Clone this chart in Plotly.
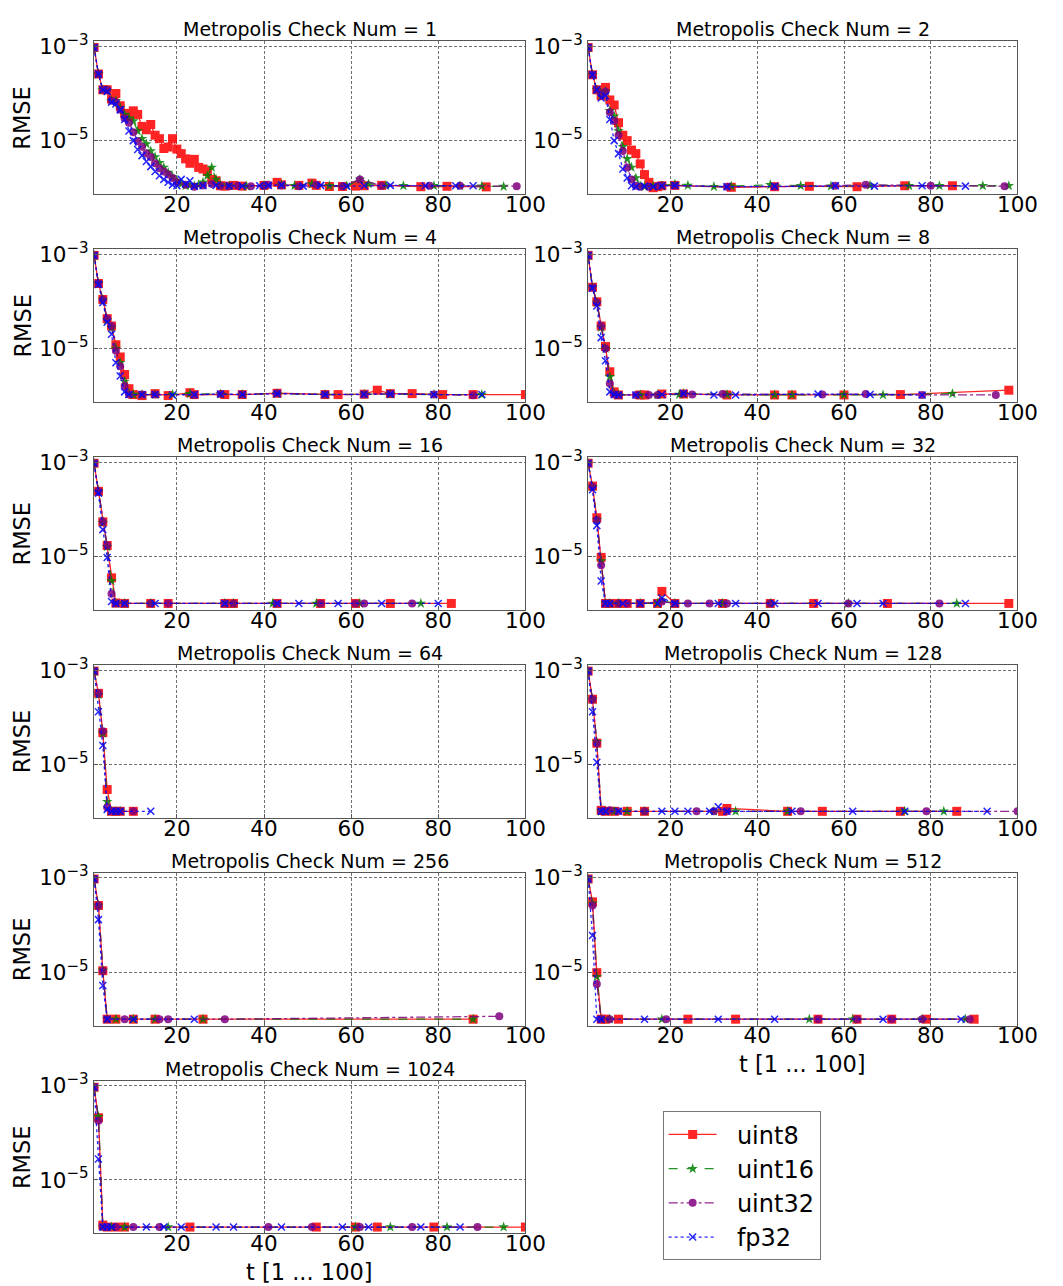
import plotly.graph_objects as go

W, H = 1063, 1286

check_nums = [1, 2, 4, 8, 16, 32, 64, 128, 256, 512, 1024]
dtypes = ["uint8", "uint16", "uint32", "fp32"]
x_ticks = [20, 40, 60, 80, 100]
y_ticks = [1e-3, 1e-5]
y_tick_text = ["10<sup>−3</sup>", "10<sup>−5</sup>"]
x_label = "t [1 ... 100]"
y_label = "RMSE"

# (t, RMSE) samples for each Metropolis check count and data type
c1_uint8 = [(1, 9.5e-4), (2, 2.6e-4), (3, 1.2e-4), (4, 1.2e-4), (5, 7.7e-5), (6, 1.0e-4), (7, 5.5e-5),
            (8, 3.8e-5), (9, 3.2e-5), (10, 4.3e-5), (11, 3.6e-5), (12, 2.0e-5), (13, 1.7e-5), (14, 2.2e-5),
            (15, 1.3e-5), (16, 1.1e-5), (17, 6.8e-6), (18, 7.3e-6), (19, 1.1e-5), (20, 6.6e-6), (21, 5.3e-6),
            (22, 4.1e-6), (23, 3.3e-6), (24, 4.0e-6), (25, 2.7e-6), (26, 2.5e-6), (27, 2.2e-6), (28, 1.5e-6),
            (29, 1.4e-6), (30, 1.1e-6), (31, 1.08e-6), (33, 1.12e-6), (35, 1.08e-6), (40, 1.12e-6),
            (43, 1.3e-6), (44, 1.15e-6), (48, 1.12e-6), (51, 1.25e-6), (52, 1.12e-6), (55, 1.06e-6),
            (58, 1.06e-6), (61, 1.08e-6), (63, 1.1e-6), (67, 1.12e-6), (76, 1.05e-6), (82, 1.07e-6),
            (91, 1.04e-6)]
c1_uint16 = [(1, 9.5e-4), (2, 2.6e-4), (3, 1.2e-4), (4, 1.15e-4), (5, 7.0e-5), (6, 7.0e-5), (7, 5.0e-5),
             (8, 3.6e-5), (9, 3.0e-5), (10, 2.6e-5), (11, 1.6e-5), (12, 1.1e-5), (13, 8.5e-6), (14, 6.0e-6),
             (15, 4.5e-6), (16, 3.4e-6), (17, 2.7e-6), (18, 2.1e-6), (19, 1.7e-6), (20, 1.4e-6), (21, 1.2e-6),
             (22, 1.1e-6), (23, 1.12e-6), (24, 1.1e-6), (25, 1.15e-6), (26, 1.3e-6), (27, 1.8e-6), (28, 2.7e-6),
             (29, 1.5e-6), (30, 1.15e-6), (32, 1.1e-6), (36, 1.08e-6), (40, 1.12e-6), (44, 1.15e-6),
             (47, 1.1e-6), (51, 1.2e-6), (55, 1.1e-6), (59, 1.1e-6), (62, 1.5e-6), (64, 1.2e-6),
             (68, 1.12e-6), (72, 1.1e-6), (79, 1.1e-6), (85, 1.1e-6), (90, 1.08e-6), (95, 1.06e-6)]
c1_uint32 = [(1, 9.5e-4), (2, 2.6e-4), (3, 1.2e-4), (4, 1.2e-4), (5, 7.0e-5), (6, 6.5e-5), (7, 4.5e-5),
             (8, 3.0e-5), (9, 2.4e-5), (10, 1.5e-5), (11, 9.7e-6), (12, 7.4e-6), (13, 5.3e-6), (14, 4.5e-6),
             (15, 3.3e-6), (16, 2.6e-6), (17, 2.2e-6), (18, 1.9e-6), (19, 1.6e-6), (20, 1.3e-6), (22, 1.15e-6),
             (24, 1.05e-6), (26, 1.12e-6), (28, 1.2e-6), (30, 1.1e-6), (32, 1.08e-6), (34, 1.1e-6),
             (37, 1.07e-6), (40, 1.1e-6), (41, 1.15e-6), (44, 1.12e-6), (48, 1.07e-6), (52, 1.15e-6),
             (58, 1.08e-6), (62, 1.5e-6), (67, 1.1e-6), (78, 1.1e-6), (85, 1.1e-6), (98, 1.08e-6)]
c1_fp32 = [(1, 9.5e-4), (2, 2.6e-4), (3, 1.2e-4), (4, 1.1e-4), (5, 6.5e-5), (6, 6.0e-5), (7, 4.5e-5),
           (8, 2.8e-5), (9, 1.6e-5), (10, 1.0e-5), (11, 6.5e-6), (12, 4.8e-6), (13, 3.6e-6), (14, 2.8e-6),
           (15, 2.2e-6), (16, 1.8e-6), (17, 1.5e-6), (18, 1.3e-6), (19, 1.15e-6), (20, 1.1e-6), (21, 1.5e-6),
           (22, 1.2e-6), (23, 1.4e-6), (24, 1.08e-6), (26, 1.1e-6), (29, 1.12e-6), (32, 1.1e-6), (35, 1.08e-6),
           (39, 1.1e-6), (41, 1.12e-6), (44, 1.15e-6), (49, 1.08e-6), (53, 1.12e-6), (59, 1.07e-6),
           (63, 1.1e-6), (69, 1.12e-6), (77, 1.1e-6), (84, 1.1e-6), (88, 1.1e-6)]

c2_uint8 = [(1, 9.5e-4), (2, 2.5e-4), (3, 1.2e-4), (4, 9.0e-5), (5, 1.35e-4), (6, 7.3e-5), (7, 5.7e-5),
            (8, 2.4e-5), (9, 1.3e-5), (10, 1.0e-5), (11, 6.3e-6), (12, 5.3e-6), (13, 3.2e-6), (14, 1.9e-6),
            (15, 1.3e-6), (16, 1.0e-6), (17, 1.05e-6), (18, 1.1e-6), (21, 1.12e-6), (34, 1.02e-6),
            (44, 1.05e-6), (52, 1.07e-6), (63, 1.05e-6), (74, 1.1e-6), (85, 1.1e-6)]
c2_uint16 = [(1, 9.5e-4), (2, 2.5e-4), (3, 1.2e-4), (4, 9.5e-5), (5, 1.1e-4), (6, 4.3e-5), (7, 3.3e-5),
             (8, 1.6e-5), (9, 7.4e-6), (10, 4.1e-6), (11, 2.7e-6), (12, 1.6e-6), (13, 1.1e-6), (14, 1.05e-6),
             (16, 1.08e-6), (18, 1.1e-6), (21, 1.2e-6), (24, 1.12e-6), (30, 1.05e-6), (34, 1.08e-6),
             (43, 1.15e-6), (50, 1.1e-6), (57, 1.08e-6), (66, 1.12e-6), (75, 1.1e-6), (82, 1.1e-6),
             (92, 1.1e-6), (98, 1.1e-6)]
c2_uint32 = [(1, 9.5e-4), (2, 2.5e-4), (3, 1.2e-4), (4, 1.0e-4), (5, 1.1e-4), (6, 4.0e-5), (7, 2.6e-5),
             (8, 1.3e-5), (9, 6.0e-6), (10, 2.7e-6), (11, 1.5e-6), (12, 1.1e-6), (13, 1.05e-6), (15, 1.05e-6),
             (17, 1.08e-6), (18, 1.12e-6), (21, 1.1e-6), (33, 1.05e-6), (44, 1.05e-6), (58, 1.1e-6),
             (65, 1.15e-6), (80, 1.1e-6), (97, 1.08e-6)]
c2_fp32 = [(1, 9.5e-4), (2, 2.5e-4), (3, 1.2e-4), (4, 8.0e-5), (5, 9.0e-5), (6, 2.8e-5), (7, 1.0e-5),
           (8, 5.3e-6), (9, 2.5e-6), (10, 1.6e-6), (11, 1.1e-6), (12, 1.05e-6), (14, 1.08e-6), (16, 1.05e-6),
           (18, 1.1e-6), (21, 1.12e-6), (33, 1.05e-6), (44, 1.07e-6), (58, 1.1e-6), (67, 1.08e-6),
           (78, 1.1e-6), (88, 1.08e-6)]

c4_uint8 = [(1, 9.5e-4), (2, 2.4e-4), (3, 1.1e-4), (4, 4.3e-5), (5, 3.0e-5), (6, 1.2e-5), (7, 6.6e-6),
            (8, 2.8e-6), (9, 1.4e-6), (10, 1.05e-6), (12, 1.0e-6), (15, 1.1e-6), (18, 1.0e-6), (23, 1.15e-6),
            (24, 1.05e-6), (31, 1.05e-6), (35, 1.05e-6), (43, 1.12e-6), (54, 1.05e-6), (57, 1.05e-6),
            (63, 1.07e-6), (66, 1.3e-6), (69, 1.1e-6), (74, 1.1e-6), (81, 1.05e-6), (88, 1.05e-6),
            (100, 1.05e-6)]
c4_uint16 = [(1, 9.5e-4), (2, 2.4e-4), (3, 1.1e-4), (4, 4.0e-5), (5, 2.8e-5), (6, 1.0e-5), (7, 5.0e-6),
             (8, 2.0e-6), (9, 1.1e-6), (10, 1.05e-6), (12, 1.05e-6), (15, 1.05e-6), (19, 1.05e-6),
             (23, 1.1e-6), (30, 1.08e-6), (35, 1.05e-6), (43, 1.1e-6), (54, 1.05e-6), (63, 1.07e-6),
             (69, 1.08e-6), (79, 1.05e-6), (90, 1.05e-6)]
c4_uint32 = [(1, 9.5e-4), (2, 2.4e-4), (3, 1.1e-4), (4, 4.3e-5), (5, 3.0e-5), (6, 9.0e-6), (7, 4.2e-6),
             (8, 1.6e-6), (9, 1.05e-6), (12, 1.05e-6), (15, 1.05e-6), (24, 1.03e-6), (30, 1.08e-6),
             (35, 1.05e-6), (43, 1.12e-6), (54, 1.05e-6), (63, 1.05e-6), (69, 1.1e-6), (79, 1.05e-6),
             (88, 1.02e-6)]
c4_fp32 = [(1, 9.5e-4), (2, 2.3e-4), (3, 9.5e-5), (4, 3.6e-5), (5, 2.0e-5), (6, 5.0e-6), (7, 2.6e-6),
           (8, 1.2e-6), (9, 1.05e-6), (12, 1.05e-6), (15, 1.05e-6), (19, 1.03e-6), (24, 1.05e-6),
           (30, 1.08e-6), (35, 1.05e-6), (43, 1.1e-6), (54, 1.05e-6), (63, 1.07e-6), (69, 1.08e-6),
           (79, 1.05e-6), (90, 1.05e-6)]

c8_uint8 = [(1, 9.5e-4), (2, 2.0e-4), (3, 9.8e-5), (4, 3.0e-5), (5, 1.1e-5), (6, 3.2e-6), (7, 1.2e-6),
            (8, 1.03e-6), (13, 1.03e-6), (14, 1.03e-6), (18, 1.08e-6), (23, 1.08e-6), (33, 1.03e-6),
            (44, 1.03e-6), (48, 1.03e-6), (60, 1.03e-6), (73, 1.05e-6), (98, 1.3e-6)]
c8_uint16 = [(1, 9.5e-4), (2, 2.0e-4), (3, 9.5e-5), (4, 2.8e-5), (5, 1.0e-5), (6, 2.5e-6), (7, 1.1e-6),
             (8, 1.03e-6), (13, 1.03e-6), (17, 1.03e-6), (22, 1.05e-6), (23, 1.1e-6), (33, 1.05e-6),
             (44, 1.03e-6), (48, 1.03e-6), (60, 1.05e-6), (69, 1.03e-6), (85, 1.1e-6)]
c8_uint32 = [(1, 9.5e-4), (2, 2.0e-4), (3, 9.5e-5), (4, 3.0e-5), (5, 1.0e-5), (6, 1.8e-6), (7, 1.05e-6),
             (8, 1.03e-6), (12, 1.03e-6), (15, 1.03e-6), (17, 1.03e-6), (23, 1.1e-6), (25, 1.05e-6),
             (32, 1.08e-6), (55, 1.05e-6), (65, 1.08e-6), (78, 1.03e-6), (95, 1.03e-6)]
c8_fp32 = [(1, 9.5e-4), (2, 1.9e-4), (3, 8.0e-5), (4, 1.7e-5), (5, 5.5e-6), (6, 1.2e-6), (7, 1.05e-6),
           (8, 1.03e-6), (12, 1.03e-6), (18, 1.05e-6), (23, 1.12e-6), (30, 1.03e-6), (35, 1.03e-6),
           (54, 1.08e-6), (66, 1.05e-6), (78, 1.03e-6)]

c16_uint8 = [(1, 9.5e-4), (2, 2.4e-4), (3, 5.4e-5), (4, 1.7e-5), (5, 3.5e-6), (6, 1.02e-6), (8, 1.0e-6),
             (14, 1.0e-6), (18, 1.0e-6), (31, 1.0e-6), (32, 1.0e-6), (33, 1.0e-6), (43, 1.0e-6),
             (53, 1.0e-6), (61, 1.0e-6), (69, 1.0e-6), (83, 1.0e-6)]
c16_uint16 = [(1, 9.5e-4), (2, 2.4e-4), (3, 5.2e-5), (4, 1.6e-5), (5, 3.0e-6), (6, 1.0e-6), (8, 1.0e-6),
              (14, 1.0e-6), (31, 1.0e-6), (33, 1.0e-6), (42, 1.0e-6), (52, 1.0e-6), (62, 1.0e-6),
              (76, 1.0e-6)]
c16_uint32 = [(1, 9.5e-4), (2, 2.4e-4), (3, 5.4e-5), (4, 1.7e-5), (5, 1.6e-6), (6, 1.0e-6), (8, 1.0e-6),
              (14, 1.0e-6), (18, 1.0e-6), (31, 1.0e-6), (33, 1.0e-6), (43, 1.0e-6), (53, 1.0e-6),
              (61, 1.0e-6), (63, 1.0e-6), (74, 1.0e-6)]
c16_fp32 = [(1, 9.5e-4), (2, 2.2e-4), (3, 3.7e-5), (4, 9.5e-6), (5, 1.1e-6), (6, 1.0e-6), (8, 1.0e-6),
            (15, 1.0e-6), (31, 1.0e-6), (43, 1.0e-6), (48, 1.0e-6), (57, 1.0e-6), (67, 1.0e-6),
            (80, 1.0e-6)]

c32_uint8 = [(1, 9.5e-4), (2, 3.1e-4), (3, 6.6e-5), (4, 9.5e-6), (5, 1.0e-6), (6, 1.0e-6), (8, 1.0e-6),
             (10, 1.0e-6), (13, 1.0e-6), (17, 1.0e-6), (18, 1.8e-6), (21, 1.0e-6), (32, 1.0e-6),
             (43, 1.0e-6), (53, 1.0e-6), (70, 1.0e-6), (98, 1.0e-6)]
c32_uint16 = [(1, 9.5e-4), (2, 3.0e-4), (3, 6.0e-5), (4, 8.0e-6), (5, 1.0e-6), (6, 1.0e-6), (8, 1.0e-6),
              (13, 1.0e-6), (17, 1.0e-6), (18, 1.15e-6), (21, 1.0e-6), (32, 1.0e-6), (43, 1.0e-6),
              (61, 1.0e-6), (86, 1.0e-6)]
c32_uint32 = [(1, 9.5e-4), (2, 3.0e-4), (3, 6.0e-5), (4, 6.5e-6), (5, 1.0e-6), (6, 1.0e-6), (8, 1.0e-6),
              (10, 1.0e-6), (13, 1.0e-6), (18, 1.1e-6), (21, 1.0e-6), (24, 1.0e-6), (29, 1.0e-6),
              (33, 1.0e-6), (43, 1.0e-6), (61, 1.0e-6), (82, 1.0e-6)]
c32_fp32 = [(1, 9.5e-4), (2, 2.6e-4), (3, 4.5e-5), (4, 3.0e-6), (5, 1.0e-6), (6, 1.0e-6), (9, 1.0e-6),
            (13, 1.0e-6), (17, 1.0e-6), (18, 1.3e-6), (21, 1.0e-6), (31, 1.0e-6), (35, 1.0e-6),
            (44, 1.0e-6), (54, 1.0e-6), (63, 1.0e-6), (69, 1.0e-6), (88, 1.0e-6)]

c64_uint8 = [(1, 9.5e-4), (2, 3.2e-4), (3, 4.7e-5), (4, 2.9e-6), (5, 1.0e-6), (6, 1.0e-6), (7, 1.0e-6),
             (10, 1.0e-6)]
c64_uint16 = [(1, 9.5e-4), (2, 3.0e-4), (3, 4.5e-5), (4, 1.6e-6), (5, 1.0e-6), (6, 1.0e-6), (7, 1.0e-6)]
c64_uint32 = [(1, 9.5e-4), (2, 3.2e-4), (3, 5.0e-5), (4, 1.2e-6), (5, 1.0e-6), (6, 1.0e-6), (7, 1.0e-6),
              (10, 1.0e-6)]
c64_fp32 = [(1, 9.5e-4), (2, 1.3e-4), (3, 2.5e-5), (4, 1.1e-6), (5, 1.0e-6), (6, 1.0e-6), (7, 1.0e-6),
            (14, 1.0e-6)]

c128_uint8 = [(1, 9.5e-4), (2, 2.4e-4), (3, 2.8e-5), (4, 1.05e-6), (5, 1.0e-6), (7, 1.0e-6), (10, 1.0e-6),
              (14, 1.0e-6), (32, 1.0e-6), (33, 1.15e-6), (47, 1.0e-6), (55, 1.0e-6), (73, 1.0e-6),
              (86, 1.0e-6)]
c128_uint16 = [(1, 9.5e-4), (2, 2.4e-4), (3, 3.0e-5), (4, 1.0e-6), (5, 1.0e-6), (7, 1.0e-6), (10, 1.0e-6),
               (14, 1.0e-6), (30, 1.0e-6), (35, 1.0e-6), (47, 1.0e-6), (74, 1.0e-6), (83, 1.0e-6)]
c128_uint32 = [(1, 9.5e-4), (2, 2.4e-4), (3, 2.8e-5), (4, 1.0e-6), (5, 1.02e-6), (6, 1.05e-6), (8, 1.0e-6),
               (14, 1.0e-6), (26, 1.0e-6), (30, 1.0e-6), (33, 1.0e-6), (50, 1.0e-6), (79, 1.0e-6),
               (100, 1.0e-6)]
c128_fp32 = [(1, 9.5e-4), (2, 1.3e-4), (3, 1.1e-5), (4, 1.0e-6), (5, 1.0e-6), (8, 1.0e-6), (18, 1.0e-6),
             (21, 1.0e-6), (24, 1.0e-6), (29, 1.0e-6), (31, 1.25e-6), (33, 1.0e-6), (48, 1.0e-6),
             (62, 1.0e-6), (74, 1.0e-6), (93, 1.0e-6)]

c256_uint8 = [(1, 9.5e-4), (2, 2.6e-4), (3, 1.07e-5), (4, 1.0e-6), (6, 1.0e-6), (10, 1.0e-6), (15, 1.0e-6),
              (26, 1.0e-6), (88, 1.0e-6)]
c256_uint16 = [(1, 9.5e-4), (2, 2.6e-4), (3, 1.1e-5), (4, 1.0e-6), (6, 1.0e-6), (10, 1.0e-6), (15, 1.0e-6),
               (26, 1.0e-6), (88, 1.0e-6)]
c256_uint32 = [(1, 9.5e-4), (2, 2.6e-4), (3, 1.07e-5), (4, 1.0e-6), (8, 1.0e-6), (16, 1.0e-6), (18, 1.0e-6),
               (31, 1.0e-6), (94, 1.15e-6)]
c256_fp32 = [(1, 9.5e-4), (2, 1.3e-4), (3, 5.2e-6), (4, 1.0e-6), (10, 1.0e-6), (24, 1.0e-6)]

c512_uint8 = [(1, 9.5e-4), (2, 3.1e-4), (3, 9.7e-6), (4, 1.0e-6), (5, 1.0e-6), (8, 1.0e-6), (24, 1.0e-6),
              (35, 1.0e-6), (54, 1.0e-6), (63, 1.0e-6), (71, 1.0e-6), (79, 1.0e-6), (90, 1.0e-6)]
c512_uint16 = [(1, 9.5e-4), (2, 2.9e-4), (3, 8.0e-6), (4, 1.0e-6), (6, 1.0e-6), (18, 1.0e-6), (52, 1.0e-6),
               (62, 1.0e-6), (78, 1.0e-6), (88, 1.0e-6)]
c512_uint32 = [(1, 9.5e-4), (2, 2.6e-4), (3, 5.6e-6), (4, 1.0e-6), (6, 1.0e-6), (19, 1.0e-6), (54, 1.0e-6),
               (63, 1.0e-6), (71, 1.0e-6), (78, 1.0e-6), (89, 1.0e-6)]
c512_fp32 = [(1, 9.5e-4), (2, 6.0e-5), (3, 1.0e-6), (4, 1.0e-6), (14, 1.0e-6), (31, 1.0e-6), (44, 1.0e-6),
             (69, 1.0e-6), (87, 1.0e-6)]

c1024_uint8 = [(1, 9.3e-4), (2, 2.1e-4), (3, 1.1e-6), (4, 1.0e-6), (6, 1.0e-6), (8, 1.0e-6), (23, 1.0e-6),
               (52, 1.0e-6), (61, 1.0e-6), (66, 1.0e-6), (79, 1.0e-6), (100, 1.0e-6)]
c1024_uint16 = [(1, 9.3e-4), (2, 2.2e-4), (3, 1.0e-6), (5, 1.0e-6), (8, 1.0e-6), (18, 1.0e-6), (61, 1.0e-6),
                (69, 1.0e-6), (82, 1.0e-6), (95, 1.0e-6)]
c1024_uint32 = [(1, 9.3e-4), (2, 1.8e-4), (3, 1.0e-6), (4, 1.0e-6), (6, 1.0e-6), (10, 1.0e-6), (16, 1.0e-6),
                (41, 1.0e-6), (51, 1.0e-6), (62, 1.0e-6), (74, 1.0e-6), (89, 1.0e-6)]
c1024_fp32 = [(1, 9.3e-4), (2, 2.8e-5), (3, 1.0e-6), (4, 1.0e-6), (5, 1.0e-6), (13, 1.0e-6), (17, 1.0e-6),
              (21, 1.0e-6), (29, 1.0e-6), (33, 1.0e-6), (44, 1.0e-6), (58, 1.0e-6), (64, 1.0e-6),
              (76, 1.0e-6), (85, 1.0e-6)]

styles = {
    "uint8": dict(color="#ff0000", dash="solid", symbol="square", size=9),
    "uint16": dict(color="#008000", dash="dash", symbol="star", size=8),
    "uint32": dict(color="#800080", dash="dashdot", symbol="circle", size=8),
    "fp32": dict(color="#0000ff", dash="dot", symbol="x-thin", size=7),
}

# panel geometry in pixels
col_left = [96, 600]
col_right = [536, 1038]
row_top0, row_h, row_step = 31.5, 154, 209.5


def px_x(x):
    return x / W


def px_y(y):
    return 1 - y / H


fig = go.Figure()
annotations = []

for i, n in enumerate(check_nums):
    row, col = divmod(i, 2)
    k = i + 1
    xa = "x" if k == 1 else f"x{k}"
    ya = "y" if k == 1 else f"y{k}"
    top = row_top0 + row * row_step
    bottom = top + row_h

    for d in dtypes:
        pts = globals()[f"c{n}_{d}"]
        st = styles[d]
        marker = dict(symbol=st["symbol"], size=st["size"], color=st["color"])
        if d == "fp32":
            marker["line"] = dict(color=st["color"], width=1.5)
        else:
            marker["line"] = dict(width=0)
        fig.add_trace(go.Scatter(
            x=[p[0] for p in pts], y=[p[1] for p in pts],
            mode="lines+markers", name="\u00a0\u00a0" + d, legendgroup=d,
            showlegend=(i == 0), opacity=0.85,
            line=dict(color=st["color"], dash=st["dash"], width=1.3),
            marker=marker, xaxis=xa, yaxis=ya,
        ))

    axis_common = dict(
        showline=True, linecolor="#555555", linewidth=1.2, mirror=True,
        showgrid=True, gridcolor="#707070", gridwidth=0.8, griddash="3px,2px",
        ticks="inside", ticklen=4, tickcolor="#555555",
        tickfont=dict(family="DejaVu Sans", size=21.5, color="black"),
        zeroline=False,
    )
    fig.layout["xaxis" if k == 1 else f"xaxis{k}"] = dict(
        axis_common, domain=[px_x(col_left[col]), px_x(col_right[col])],
        anchor=ya, range=[1, 100], tickvals=x_ticks, ticklabelstandoff=-9,
    )
    fig.layout["yaxis" if k == 1 else f"yaxis{k}"] = dict(
        axis_common, domain=[px_y(bottom), px_y(top)],
        anchor=xa, type="log", range=[-6.135, -2.89],
        tickvals=y_ticks, ticktext=y_tick_text,
    )

    cx = (col_left[col] + col_right[col]) / 2
    annotations.append(dict(
        text=f"Metropolis Check Num = {n}", x=px_x(cx), y=px_y(top - 12),
        xref="paper", yref="paper", xanchor="center", yanchor="middle",
        showarrow=False, font=dict(family="DejaVu Sans", size=19, color="black"),
    ))
    if col == 0:
        annotations.append(dict(
            text=y_label, x=px_x(22.5), y=px_y((top + bottom) / 2), textangle=-90,
            xref="paper", yref="paper", xanchor="center", yanchor="middle",
            showarrow=False, font=dict(family="DejaVu Sans", size=22.5, color="black"),
        ))
    if i >= len(check_nums) - 2:
        annotations.append(dict(
            text=x_label, x=px_x(cx), y=px_y(bottom + 39),
            xref="paper", yref="paper", xanchor="center", yanchor="middle",
            showarrow=False, font=dict(family="DejaVu Sans", size=22.5, color="black"),
        ))

fig.update_layout(
    width=W, height=H, autosize=False,
    margin=dict(l=0, r=0, t=0, b=0),
    paper_bgcolor="white", plot_bgcolor="white",
    font=dict(family="DejaVu Sans", color="black"),
    annotations=annotations,
    legend=dict(
        x=px_x(676), y=px_y(1110), xanchor="left", yanchor="top",
        bordercolor="#777777", borderwidth=1, bgcolor="white",
        font=dict(family="DejaVu Sans", size=24, color="black"),
        itemwidth=48, traceorder="grouped", tracegroupgap=0,
    ),
)

fig.write_html("out.html")
